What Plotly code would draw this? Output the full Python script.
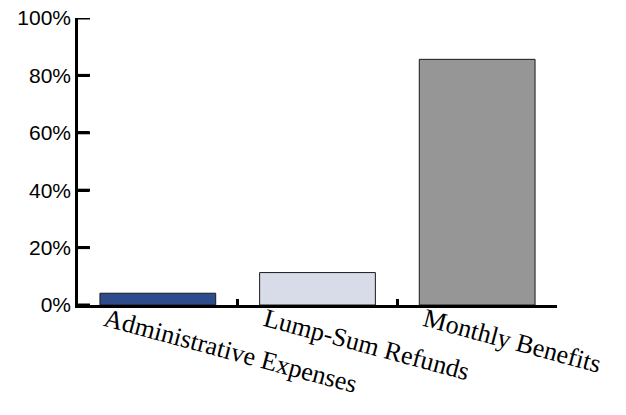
import plotly.graph_objects as go

categories = ["Administrative Expenses", "Lump-Sum Refunds", "Monthly Benefits"]
shares = [0.041, 0.113, 0.856]
bar_colors = ["#2E4C8C", "#D8DCE8", "#969696"]
y_ticks = [0, 0.2, 0.4, 0.6, 0.8, 1.0]

fig = go.Figure(go.Bar(
    x=categories,
    y=shares,
    width=0.725,
    marker=dict(color=bar_colors, line=dict(color="#1a1a1a", width=1)),
))

fig.update_layout(
    width=626, height=415,
    margin=dict(l=78, r=69, t=18, b=110),
    paper_bgcolor="white", plot_bgcolor="white",
    showlegend=False,
)
fig.update_yaxes(
    range=[0, 1], tickmode="array", tickvals=y_ticks, tickformat=".0%",
    ticks="inside", ticklen=11, tickwidth=3, tickcolor="black",
    showline=True, linecolor="black", linewidth=2.5,
    showgrid=False, zeroline=False, automargin=False,
    ticklabeloverflow="allow",
    tickfont=dict(family="Liberation Sans, Arial", size=21, color="black"),
)
fig.update_xaxes(
    tickson="boundaries", ticks="inside", ticklen=6, tickwidth=2.5, tickcolor="black",
    showline=True, linecolor="black", linewidth=2.5,
    showgrid=False, zeroline=False, automargin=False,
    tickangle=15, ticklabelshift=-52, ticklabelstandoff=-13,
    tickfont=dict(family="Liberation Serif, Times New Roman", size=26, color="black"),
)

# y-axis tick marks drawn at each tick value, pointing into the plot
for v in y_ticks:
    fig.add_shape(type="line", xref="x domain", yref="y",
                  x0=0, x1=0.025, y0=v, y1=v,
                  line=dict(color="black", width=3), layer="above")

fig.write_html("out.html", config={"displayModeBar": False},
               post_script="document.body.style.margin='0';")
